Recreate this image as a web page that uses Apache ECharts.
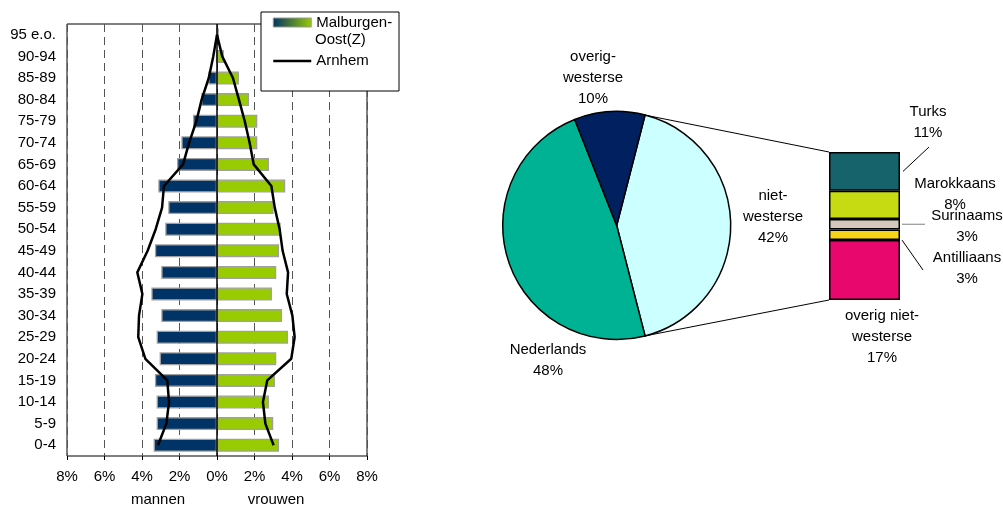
<!DOCTYPE html>
<html><head><meta charset="utf-8">
<script src="https://cdn.jsdelivr.net/npm/echarts@6/dist/echarts.min.js"></script>
<style>html,body{margin:0;padding:0;background:#fff}#c{width:1003px;height:506px}</style>
</head><body><div id="c"></div>
<script>
// ---------- data ----------
const ageGroups = ['0-4','5-9','10-14','15-19','20-24','25-29','30-34','35-39','40-44','45-49','50-54','55-59','60-64','65-69','70-74','75-79','80-84','85-89','90-94','95 e.o.'];
const menMalburgen   = [3.38,3.22,3.22,3.31,3.06,3.22,2.97,3.50,2.97,3.31,2.76,2.60,3.13,2.13,1.90,1.28,0.84,0.46,0.05,0.00];
const womenMalburgen = [3.31,3.00,2.77,3.09,3.16,3.79,3.47,2.93,3.16,3.31,3.40,3.02,3.64,2.77,2.15,2.15,1.71,1.17,0.37,0.10];
const menArnhem      = [3.15,2.70,2.56,2.65,3.82,4.20,4.16,3.98,4.25,3.70,3.27,2.93,2.83,1.81,1.49,1.10,0.82,0.44,0.20,0.00];
const womenArnhem    = [3.02,2.58,2.45,2.68,3.96,4.14,4.02,3.72,3.79,3.50,3.34,3.08,2.90,1.96,1.74,1.48,1.17,0.85,0.28,0.00];
const seriesNameMalburgen = 'Malburgen-Oost(Z)';
const seriesNameArnhem = 'Arnhem';
const axisNameMen = 'mannen';
const axisNameWomen = 'vrouwen';
const pieNames  = ['niet-westerse','Nederlands','overig-westerse'];
const pieValues = [42, 48, 10];
const splitNames  = ['overig niet-westerse','Antilliaans','Surinaams','Marokkaans','Turks'];
const splitValues = [17, 3, 3, 8, 11];

// ---------- layout / style (not data) ----------
const FONT = "'Liberation Sans', Arial, sans-serif";
const pieColors = ['#CCFFFF','#00B294','#002060'];
const splitColors = ['#E8086D','#F7D417','#D4C8BC','#C6DB12','#17636B'];
const PIE_C = [616.7, 225.5], PIE_R = 114;
const BAR = {left: 829, top: 152, width: 71, height: 148};
const pieLabelPos = [[773, 217], [548, 360], [593, 78]];
const splitLabelPos = [[882, 337], [967, 268], [967, 226], [955, 194], [928, 122]];

const chart = echarts.init(document.getElementById('c'), null, {renderer: 'canvas'});

const pieTotal = pieValues.reduce((a, b) => a + b, 0);
const splitTotal = splitValues.reduce((a, b) => a + b, 0);
const halfAngle = 360 * pieValues[0] / pieTotal / 2;
const rad = halfAngle * Math.PI / 180;
const pieTop = [PIE_C[0] + PIE_R * Math.cos(rad), PIE_C[1] - PIE_R * Math.sin(rad)];
const pieBot = [PIE_C[0] + PIE_R * Math.cos(rad), PIE_C[1] + PIE_R * Math.sin(rad)];
function splitY(v) { return BAR.top + BAR.height * (1 - v / splitTotal); }
function cum(i) { let s = 0; for (let k = 0; k < i; k++) s += splitValues[k]; return s; }
const barRight = BAR.left + BAR.width;
const yTurksMid = splitY(cum(4) + splitValues[4] / 2);
const ySurMid = splitY(cum(2) + splitValues[2] / 2);
const yAntBottom = splitY(cum(1));

const lineStyleThin = {stroke: '#000', lineWidth: 1};
const pctLabel = v => v + '%';
const breakName = n => n.replace('-', '-\n');
const nameParts = seriesNameMalburgen.replace('-', '-\n').split('\n');

const option = {
  animation: false,
  textStyle: {fontFamily: FONT},
  grid: [
    {left: 67, top: 24, width: 300, height: 432, show: true, borderColor: '#000', borderWidth: 1, backgroundColor: 'transparent', containLabel: false, outerBoundsMode: 'none'},
    {left: BAR.left, top: BAR.top, width: BAR.width, height: BAR.height, containLabel: false, outerBoundsMode: 'none'}
  ],
  xAxis: [
    {type: 'value', gridIndex: 0, min: -8, max: 8, interval: 2,
     axisLine: {show: false},
     axisTick: {show: true, length: 4, lineStyle: {color: '#000'}},
     axisLabel: {formatter: v => Math.abs(v) + '%', fontSize: 15, color: '#000', margin: 13, fontFamily: FONT},
     splitLine: {show: true, lineStyle: {color: '#555', type: [8, 5], width: 1}}},
    {type: 'category', gridIndex: 1, data: ['niet-westerse'], show: false}
  ],
  yAxis: [
    {type: 'category', gridIndex: 0, data: ageGroups,
     axisLine: {show: false, onZero: false}, axisTick: {show: false},
     axisLabel: {fontSize: 15, color: '#000', margin: 11, interval: 0, fontFamily: FONT},
     splitLine: {show: false}},
    {type: 'value', gridIndex: 1, min: 0, max: splitTotal, show: false}
  ],
  legend: {
    left: 272, top: 13.5, padding: 0, orient: 'vertical', itemGap: 20.5,
    itemWidth: 38, itemHeight: 9, selectedMode: false,
    textStyle: {fontSize: 15, color: '#000', lineHeight: 18, fontFamily: FONT},
    formatter: n => (n === seriesNameMalburgen ? nameParts[0] : n),
    data: [
      {name: seriesNameMalburgen, icon: 'rect',
       itemStyle: {color: new echarts.graphic.LinearGradient(0, 0, 1, 0, [{offset: 0, color: '#003366'}, {offset: 1, color: '#99CC00'}]), borderColor: '#999', borderWidth: 1}},
      {name: seriesNameArnhem, itemStyle: {opacity: 0}, lineStyle: {color: '#000', width: 2.5}}
    ]
  },
  series: [
    {name: seriesNameMalburgen, type: 'bar', xAxisIndex: 0, yAxisIndex: 0, stack: 'pop', barWidth: 13,
     data: menMalburgen.map(v => -v), silent: true,
     itemStyle: {color: '#003366', borderColor: '#A0A0A0', borderWidth: 1.3}},
    {name: seriesNameMalburgen, type: 'bar', xAxisIndex: 0, yAxisIndex: 0, stack: 'pop', barWidth: 13,
     data: womenMalburgen, silent: true,
     itemStyle: {color: '#99CC00', borderColor: '#A0A0A0', borderWidth: 1.3},
     markLine: {silent: true, symbol: 'none', label: {show: false}, animation: false,
       lineStyle: {color: '#000', type: 'solid', width: 1.5}, data: [{xAxis: 0}]}},
    {name: seriesNameArnhem, type: 'line', xAxisIndex: 0, yAxisIndex: 0, data: menArnhem.map(v => -v),
     symbol: 'none', showSymbol: false, silent: true, z: 5, lineStyle: {color: '#000', width: 2.5}, itemStyle: {color: '#000'}},
    {name: seriesNameArnhem, type: 'line', xAxisIndex: 0, yAxisIndex: 0, data: womenArnhem,
     symbol: 'none', showSymbol: false, silent: true, z: 5, lineStyle: {color: '#000', width: 2.5}, itemStyle: {color: '#000'}},
    {name: 'herkomst', type: 'pie', center: PIE_C, radius: PIE_R, startAngle: halfAngle, clockwise: true,
     silent: true, avoidLabelOverlap: false,
     data: pieNames.map((n, i) => ({name: n, value: pieValues[i], itemStyle: {color: pieColors[i]}})),
     itemStyle: {borderColor: '#000', borderWidth: 1.5},
     label: {show: true, position: 'outside', formatter: p => breakName(p.name) + '\n' + pctLabel(p.value),
       fontSize: 15, lineHeight: 21, color: '#000', fontFamily: FONT, align: 'center'},
     labelLine: {show: false},
     labelLayout: p => ({x: pieLabelPos[p.dataIndex][0], y: pieLabelPos[p.dataIndex][1], align: 'center', verticalAlign: 'middle'})},
  ].concat(splitNames.map((n, i) => ({
    name: n, type: 'bar', xAxisIndex: 1, yAxisIndex: 1, stack: 'split', barWidth: '100%', silent: true,
    data: [splitValues[i]],
    itemStyle: {color: splitColors[i], borderColor: '#000', borderWidth: 1.5},
    label: {show: true, position: 'inside', formatter: p => breakName(p.seriesName) + '\n' + pctLabel(p.value),
      fontSize: 15, lineHeight: 21, color: '#000', fontFamily: FONT, align: 'center'},
    labelLayout: () => ({x: splitLabelPos[i][0], y: splitLabelPos[i][1], align: 'center', verticalAlign: 'middle'})
  }))),
  graphic: [
    {type: 'rect', z: 3, shape: {x: 261, y: 12, width: 138, height: 79}, style: {fill: '#fff', stroke: '#000', lineWidth: 1}},
    {type: 'text', z: 5, style: {text: nameParts[1], x: 315, y: 40, align: 'left', verticalAlign: 'middle', fontSize: 15, fill: '#000', fontFamily: FONT}},
    {type: 'text', style: {text: axisNameMen, x: 158, y: 500, align: 'center', verticalAlign: 'middle', fontSize: 15, fill: '#000', fontFamily: FONT}},
    {type: 'text', style: {text: axisNameWomen, x: 276, y: 500, align: 'center', verticalAlign: 'middle', fontSize: 15, fill: '#000', fontFamily: FONT}},
    {type: 'line', shape: {x1: pieTop[0], y1: pieTop[1], x2: BAR.left, y2: BAR.top}, style: lineStyleThin},
    {type: 'line', shape: {x1: pieBot[0], y1: pieBot[1], x2: BAR.left, y2: BAR.top + BAR.height}, style: lineStyleThin},
    {type: 'line', shape: {x1: barRight + 3, y1: yTurksMid, x2: 929, y2: 147}, style: lineStyleThin},
    {type: 'line', shape: {x1: barRight + 2, y1: ySurMid, x2: 925, y2: ySurMid}, style: {stroke: '#808080', lineWidth: 1}},
    {type: 'line', shape: {x1: barRight + 2, y1: yAntBottom, x2: 923, y2: 270}, style: lineStyleThin}
  ]
};
chart.setOption(option);
</script></body></html>
